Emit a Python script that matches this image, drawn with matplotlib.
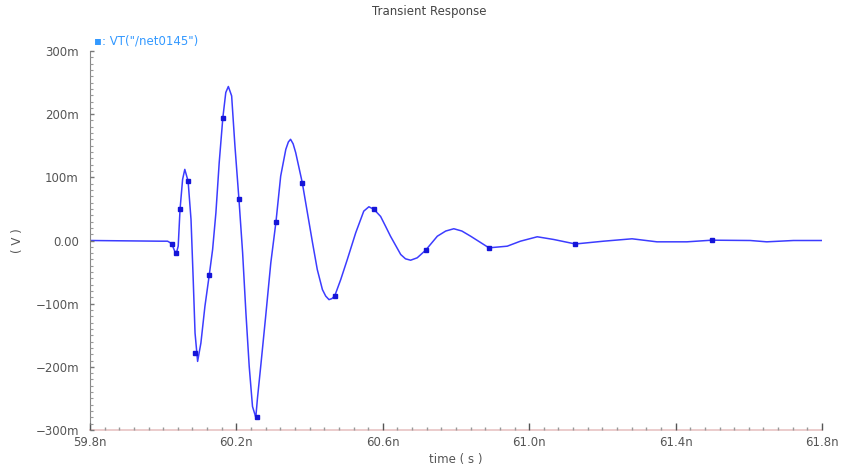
import matplotlib
matplotlib.use("Agg")
import matplotlib.pyplot as plt
from matplotlib.ticker import FixedLocator, MultipleLocator

# 读图得到的波形数据 (时间 ns, 电压 mV)
t_ns = [59.80, 59.994, 60.012, 60.023, 60.035, 60.041, 60.046, 60.053, 60.059,
        60.068, 60.076, 60.082, 60.087, 60.094, 60.103, 60.114, 60.126, 60.135,
        60.144, 60.153, 60.163, 60.171, 60.178, 60.187, 60.196, 60.207, 60.217,
        60.226, 60.235, 60.244, 60.253, 60.2575, 60.267, 60.280, 60.294, 60.308,
        60.321, 60.335, 60.342, 60.348, 60.355, 60.362, 60.380, 60.394, 60.408,
        60.421, 60.435, 60.444, 60.453, 60.461, 60.469, 60.485, 60.503, 60.526,
        60.548, 60.562, 60.576, 60.594, 60.608, 60.621, 60.649, 60.662, 60.676,
        60.694, 60.717, 60.749, 60.772, 60.794, 60.816, 60.840, 60.890, 60.940,
        60.976, 61.022, 61.067, 61.126, 61.203, 61.281, 61.349, 61.431, 61.499,
        61.604, 61.649, 61.722, 61.80]
v_mv = [0.0, -1.1, -1.1, -4.8, -22.0, -9.0, 49.2, 96.7, 112.6,
        94.1, 33.3, -61.9, -146.4, -191.4, -162.3, -104.2, -53.9, -14.3,
        43.9, 123.2, 194.6, 234.3, 243.8, 228.9, 149.6, 65.0, -19.5,
        -114.7, -199.4, -262.8, -280.0, -250.0, -196.0, -120.0, -35.4, 29.0,
        102.0, 144.3, 156.0, 160.2, 153.0, 139.1, 91.5, 43.9, -3.6,
        -46.0, -77.7, -88.0, -93.6, -92.0, -87.2, -61.9, -30.1, 12.2,
        46.5, 53.4, 49.2, 38.1, 22.0, 6.8, -22.2, -29.0, -31.2,
        -27.4, -15.4, 6.8, 15.0, 18.6, 15.0, 6.8, -11.6, -9.0,
        -1.1, 5.9, 1.6, -5.5, -1.1, 2.7, -2.1, -2.1, 0.5,
        0.0, -2.1, 0.0, 0.0]

# 曲线上的标记点
mark_t = [60.023, 60.035, 60.047, 60.068, 60.087, 60.126, 60.163, 60.207, 60.255,
          60.308, 60.380, 60.469, 60.576, 60.717, 60.890, 61.126, 61.499]
mark_v = [-4.8, -19.0, 49.2, 94.1, -178.0, -53.9, 194.6, 65.0, -280.0,
          29.0, 91.5, -87.2, 50.1, -15.4, -11.6, -5.5, 0.5]

x_ticks = [59.8, 60.2, 60.6, 61.0, 61.4, 61.8]
x_labels = ["59.8n", "60.2n", "60.6n", "61.0n", "61.4n", "61.8n"]
y_ticks = [-300, -200, -100, 0, 100, 200, 300]
y_labels = ["\u2212300m", "\u2212200m", "\u2212100m", "0.00", "100m", "200m", "300m"]

txt = "#555555"
fs = 8.5

fig = plt.figure(figsize=(8.46, 4.68), dpi=100)
ax = fig.add_axes([90 / 846, 38 / 468, 732 / 846, 379 / 468])
ax.set_axisbelow(False)

ax.plot(t_ns, v_mv, color="#3c3cff", lw=1.1, solid_joinstyle="round")
ax.plot(mark_t, mark_v, ls="none", marker="s", ms=2.4, color="#1515d8")

ax.set_xlim(59.8, 61.8)
ax.set_ylim(-300, 300)

for s in ["top", "right"]:
    ax.spines[s].set_visible(False)
ax.spines["left"].set_color("#888888")
ax.spines["bottom"].set_color("#e8c4c4")
ax.spines["bottom"].set_linewidth(1.2)

ax.xaxis.set_major_locator(FixedLocator(x_ticks))
ax.set_xticklabels(x_labels)
ax.xaxis.set_minor_locator(MultipleLocator(0.04))
ax.yaxis.set_major_locator(FixedLocator(y_ticks))
ax.set_yticklabels(y_labels)
ax.yaxis.set_minor_locator(MultipleLocator(10))

ax.tick_params(axis="x", which="major", direction="in", length=5, width=1,
               color="#555555", labelsize=fs, labelcolor=txt, pad=4)
ax.tick_params(axis="x", which="minor", direction="in", length=2.2, width=1,
               color="#999999")
ax.tick_params(axis="y", which="major", direction="in", length=3, width=1,
               color="#777777", labelsize=fs, labelcolor=txt, pad=8)
ax.tick_params(axis="y", which="minor", direction="in", length=2, width=0.8,
               color="#999999")

ax.set_xlabel("time ( s )", fontsize=fs, color=txt, labelpad=3)
ax.set_ylabel("( V )", fontsize=fs, color=txt, labelpad=8)

fig.text(429 / 846, 1 - 12 / 468, "Transient Response", ha="center", va="center",
         fontsize=fs, color="#444444")
ax.text(0.005, 1.01, "\u25aa: VT(\"/net0145\")", transform=ax.transAxes,
        ha="left", va="bottom", fontsize=fs, color="#3399ff")

fig.savefig("out.png", dpi=100)
